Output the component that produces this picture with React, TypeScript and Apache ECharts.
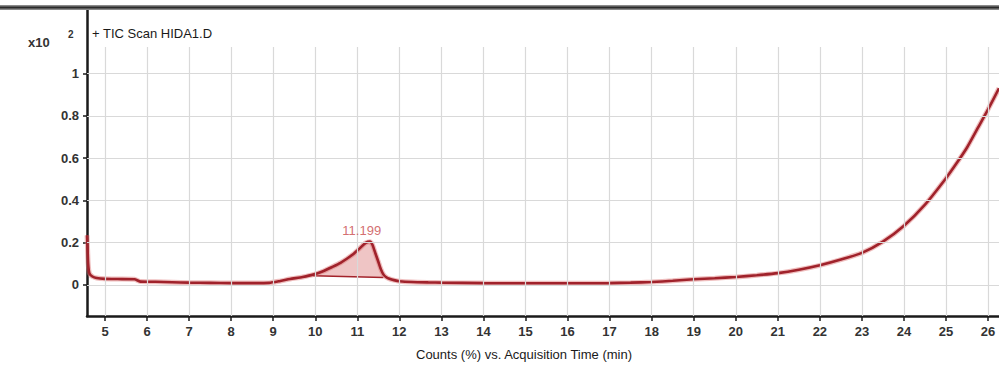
import React, { useEffect, useRef } from "react";
import * as echarts from "echarts";

// Acquisition time (min) and counts (x10^2 %)
const times = [4.573, 4.58, 4.6, 4.63, 4.7, 4.8, 5.0, 5.3, 5.7, 5.85, 6.2, 6.6, 7.0, 7.5, 8.0, 8.5, 8.9, 9.15, 9.4, 9.7, 9.95, 10.2, 10.4, 10.6, 10.75, 10.9, 11.05, 11.2, 11.3, 11.36, 11.43, 11.5, 11.56, 11.62, 11.68, 11.78, 11.87, 12.0, 12.3, 12.7, 13.0, 14.0, 15.0, 16.0, 17.0, 17.5, 18.0, 18.5, 19.0, 19.5, 20.0, 20.5, 21.0, 21.5, 22.0, 22.5, 23.0, 23.5, 24.0, 24.5, 25.0, 25.25, 25.5, 25.75, 26.0, 26.26];
const counts = [0.235, 0.2, 0.1, 0.055, 0.04, 0.033, 0.029, 0.028, 0.027, 0.016, 0.015, 0.013, 0.011, 0.01, 0.009, 0.009, 0.01, 0.018, 0.028, 0.038, 0.049, 0.066, 0.085, 0.105, 0.124, 0.145, 0.172, 0.199, 0.205, 0.19, 0.15, 0.11, 0.075, 0.05, 0.038, 0.028, 0.023, 0.018, 0.014, 0.012, 0.011, 0.009, 0.008, 0.008, 0.009, 0.011, 0.014, 0.02, 0.027, 0.032, 0.038, 0.046, 0.056, 0.072, 0.093, 0.12, 0.152, 0.205, 0.28, 0.38, 0.505, 0.575, 0.65, 0.74, 0.83, 0.93];

// Integrated peak: baseline endpoints and apex label
const peakBaseTimes = [9.95, 11.62];
const peakBaseCounts = [0.044, 0.035];
const peakLabel = "11.199";
const peakApex = [11.2, 0.205];

// Axis ticks
const xTicks = [5, 6, 7, 8, 9, 10, 11, 12, 13, 14, 15, 16, 17, 18, 19, 20, 21, 22, 23, 24, 25, 26];
const yTicks = [0, 0.2, 0.4, 0.6, 0.8, 1];

const X_MIN = 4.572;
const X_MAX = 26.26;
const Y_MIN = -0.1466;
const Y_MAX = 1.3;
const GRID_TOP_VALUE = 1.125;

const FONT = "Liberation Sans, Arial, sans-serif";

export default function App() {
  const ref = useRef<HTMLDivElement>(null);

  useEffect(() => {
    if (!ref.current) return;
    const chart = echarts.init(ref.current, undefined, { renderer: "svg" });

    const lineData = times.map((t, i) => [t, counts[i]]);

    const gridLines: any[] = [];
    xTicks.forEach((x) => {
      gridLines.push([{ coord: [x, Y_MIN] }, { coord: [x, GRID_TOP_VALUE] }]);
    });
    yTicks.forEach((y) => {
      gridLines.push({ yAxis: y });
    });

    const option: any = {
      animation: false,
      backgroundColor: "#ffffff",
      grid: { left: 87, right: 0, top: 10, bottom: 53, containLabel: false },
      xAxis: {
        type: "value",
        min: X_MIN,
        max: X_MAX,
        axisLine: { show: true, onZero: false, lineStyle: { color: "#1a1a1a", width: 2.5 } },
        axisTick: { show: true, length: 5, customValues: xTicks, lineStyle: { color: "#1a1a1a", width: 1.5 } },
        axisLabel: { customValues: xTicks, margin: 9, fontSize: 13, color: "#333", fontFamily: FONT, fontWeight: "bold" },
        splitLine: { show: false },
      },
      yAxis: {
        type: "value",
        min: Y_MIN,
        max: Y_MAX,
        axisLine: { show: true, onZero: false, lineStyle: { color: "#1a1a1a", width: 2.5 } },
        axisTick: { show: true, length: 4, customValues: yTicks, lineStyle: { color: "#1a1a1a", width: 1.5 } },
        axisLabel: {
          customValues: yTicks,
          margin: 8,
          fontSize: 13,
          color: "#333",
          fontFamily: FONT,
          fontWeight: "bold",
          formatter: (v: number) => String(Math.round(v * 10) / 10),
        },
        splitLine: { show: false },
      },
      graphic: [
        { type: "rect", z: 100, shape: { x: 0, y: 5, width: 999, height: 5 }, style: { fill: "#8a8a8a" } },
        { type: "rect", z: 101, shape: { x: 0, y: 6.5, width: 999, height: 2 }, style: { fill: "#2a2a2a" } },
        { type: "text", z: 100, x: 28, y: 42, style: { text: "x10", font: `bold 13px ${FONT}`, fill: "#333", verticalAlign: "middle" } },
        { type: "text", z: 100, x: 68, y: 34, style: { text: "2", font: `bold 10px ${FONT}`, fill: "#333", verticalAlign: "middle" } },
        { type: "text", z: 100, x: 92, y: 33, style: { text: "+ TIC Scan HIDA1.D", font: `13px ${FONT}`, fill: "#1a1a1a", verticalAlign: "middle" } },
        { type: "text", z: 100, x: 524, y: 354, style: { text: "Counts (%) vs. Acquisition Time (min)", font: `13px ${FONT}`, fill: "#1a1a1a", align: "center", verticalAlign: "middle" } },
      ],
      series: [
        {
          type: "line",
          data: [],
          silent: true,
          markLine: {
            silent: true,
            symbol: ["none", "none"],
            label: { show: false },
            lineStyle: { color: "#d9d9d9", width: 1.2, type: "solid" },
            data: gridLines,
          },
        },
        {
          type: "custom",
          silent: true,
          data: [[peakBaseTimes[0], peakBaseCounts[0]]],
          renderItem: (params: any, api: any) => {
            const pts: number[][] = [];
            pts.push(api.coord([peakBaseTimes[0], peakBaseCounts[0]]));
            times.forEach((t, i) => {
              if (t > peakBaseTimes[0] && t < peakBaseTimes[1]) pts.push(api.coord([t, counts[i]]));
            });
            pts.push(api.coord([peakBaseTimes[1], peakBaseCounts[1]]));
            const a = api.coord([peakBaseTimes[0], peakBaseCounts[0]]);
            const b = api.coord([peakBaseTimes[1], peakBaseCounts[1]]);
            return {
              type: "group",
              children: [
                { type: "polygon", shape: { points: pts }, style: { fill: "rgba(226,150,150,0.55)", stroke: "none" } },
                { type: "line", shape: { x1: a[0], y1: a[1], x2: b[0], y2: b[1] }, style: { stroke: "#a3232b", lineWidth: 1.5 } },
              ],
            };
          },
          z: 2,
        },
        {
          type: "line",
          data: lineData,
          showSymbol: false,
          symbol: "none",
          smooth: 0.2,
          lineStyle: { color: "rgba(220,110,110,0.45)", width: 5 },
          silent: true,
          z: 3,
        },
        {
          type: "line",
          data: lineData,
          showSymbol: false,
          symbol: "none",
          smooth: 0.2,
          lineStyle: { color: "#a0222b", width: 2.6 },
          silent: true,
          z: 4,
        },
        {
          type: "scatter",
          data: [peakApex],
          symbolSize: 0,
          silent: true,
          z: 5,
          label: {
            show: true,
            position: "top",
            distance: 5,
            offset: [-4, 0],
            formatter: () => peakLabel,
            fontSize: 13,
            color: "#c8474a",
            fontFamily: FONT,
          },
        },
      ],
    };

    chart.setOption(option);
    return () => chart.dispose();
  }, []);

  return <div ref={ref} style={{ width: 999, height: 369, position: "absolute", left: 0, top: 0 }} />;
}
